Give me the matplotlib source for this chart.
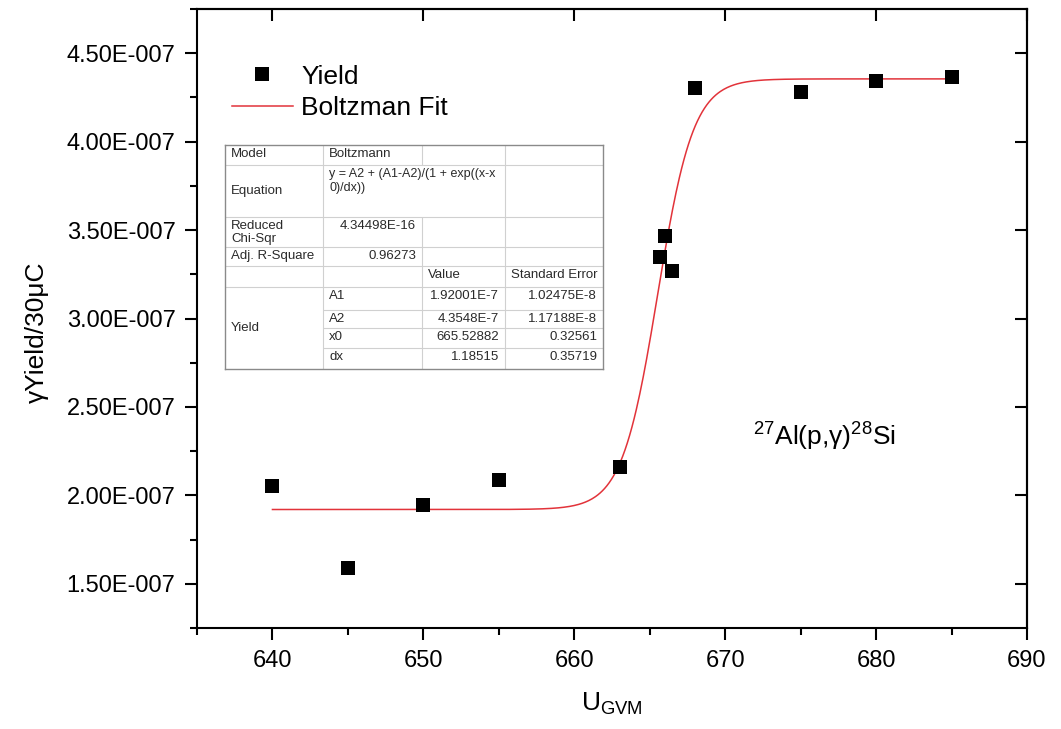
import numpy as np
import matplotlib
matplotlib.use("Agg")
import matplotlib.pyplot as plt
from matplotlib.ticker import MultipleLocator, FuncFormatter, NullLocator

plt.rcParams["font.family"] = ["Liberation Sans", "DejaVu Sans"]
plt.rcParams["mathtext.fontset"] = "custom"
plt.rcParams["mathtext.rm"] = "Liberation Sans"
plt.rcParams["mathtext.it"] = "Liberation Sans:italic"

# measured yield per 30 uC vs GVM setting
u_gvm = [640, 645, 650, 655, 663, 665.7, 666, 666.5, 668, 675, 680, 685]
yield_30uc = [2.054e-7, 1.59e-7, 1.946e-7, 2.088e-7, 2.161e-7, 3.347e-7,
              3.466e-7, 3.268e-7, 4.302e-7, 4.28e-7, 4.342e-7, 4.364e-7]

# Boltzmann fit results
A1, A2, x0, dx = 1.92001e-7, 4.3548e-7, 665.52882, 1.18515
fit_range = (640, 685)

table_rows = [
    ("Model", "Boltzmann"),
    ("Equation", "y = A2 + (A1-A2)/(1 + exp((x-x\n0)/dx))"),
    ("Reduced\nChi-Sqr", "4.34498E-16"),
    ("Adj. R-Square", "0.96273"),
]
param_names = ["A1", "A2", "x0", "dx"]
param_values = ["1.92001E-7", "4.3548E-7", "665.52882", "1.18515"]
param_errors = ["1.02475E-8", "1.17188E-8", "0.32561", "0.35719"]


def boltzmann(x):
    return A2 + (A1 - A2) / (1 + np.exp((x - x0) / dx))


def sci3(v, pos):
    m, e = f"{v:.2E}".split("E")
    e = int(e)
    return f"{m}E{'-' if e < 0 else ''}{abs(e):03d}"


W, H = 1061, 729
fig = plt.figure(figsize=(W / 100, H / 100), dpi=100)
ax = fig.add_axes([197 / W, 1 - 628 / H, 830 / W, 619 / H])

xf = np.linspace(*fit_range, 600)
ax.plot(xf, boltzmann(xf), color="#e2333a", lw=1.1, label="Boltzman Fit", zorder=2)
ax.plot(u_gvm, yield_30uc, "s", color="black", ms=9.6, mew=0, label="Yield", zorder=3)

ax.set_xlim(635, 690)
ax.set_ylim(1.25e-7, 4.75e-7)
ax.xaxis.set_major_locator(MultipleLocator(10))
ax.xaxis.set_minor_locator(MultipleLocator(5))
ax.yaxis.set_major_locator(MultipleLocator(0.5e-7))
ax.yaxis.set_minor_locator(MultipleLocator(0.25e-7))
ax.yaxis.set_major_formatter(FuncFormatter(sci3))

for s in ax.spines.values():
    s.set_linewidth(1.5)
ax.tick_params(which="major", direction="out", length=8.5, width=1.5,
               labelsize=17, pad=7, top=False, right=False)
ax.tick_params(which="minor", direction="out", length=5, width=1.5,
               top=False, right=False)

# mirrored ticks on top and right, pointing inward
secx = ax.secondary_xaxis("top")
secx.xaxis.set_major_locator(MultipleLocator(10))
secx.xaxis.set_minor_locator(NullLocator())
secx.tick_params(direction="in", length=8.5, width=1.5, labeltop=False)
secx.spines["top"].set_linewidth(1.5)
secy = ax.secondary_yaxis("right")
secy.yaxis.set_major_locator(MultipleLocator(0.5e-7))
secy.yaxis.set_minor_locator(NullLocator())
secy.tick_params(direction="in", length=8.5, width=1.5, labelright=False)
secy.spines["right"].set_linewidth(1.5)

ax.set_xlabel(r"U$_{\mathrm{GVM}}$", fontsize=19)
ax.xaxis.set_label_coords(0.5, -0.102)
ax.set_ylabel("γYield/30μC", fontsize=19)
ax.yaxis.set_label_coords(-0.178, 0.477)

ax.text(0.670, 0.294, r"$^{27}$Al(p,γ)$^{28}$Si", transform=ax.transAxes,
        fontsize=19, ha="left", va="baseline")

handles, labels = ax.get_legend_handles_labels()
ax.legend(handles[::-1], labels[::-1], loc="upper left",
          bbox_to_anchor=(0.042, 0.910), frameon=False, fontsize=19,
          handlelength=2.3, handletextpad=0.32, labelspacing=0.27,
          borderpad=0, borderaxespad=0)

# fit report table
tl, tt, tw, th = 225, 145, 378, 224
tax = fig.add_axes([tl / W, 1 - (tt + th) / H, tw / W, th / H])
tax.set_xlim(0, tw)
tax.set_ylim(th, 0)
tax.set_xticks([])
tax.set_yticks([])
for s in tax.spines.values():
    s.set_color("#8a8a8a")
    s.set_linewidth(1.0)

cols = [0, 98, 197, 280, tw]
rows = [0, 20, 72, 102, 121, 142, 165, 183, 203, th]
grid = "#d0d0d0"
tcol = "#2a2a2a"
fs = 9.5

for r in rows[1:6]:
    tax.hlines(r, 0, tw, color=grid, lw=0.8)
for r in rows[6:-1]:
    tax.hlines(r, cols[1], tw, color=grid, lw=0.8)
tax.vlines(cols[1], 0, th, color=grid, lw=0.8)
tax.vlines(cols[2], 0, rows[1], color=grid, lw=0.8)
tax.vlines(cols[2], rows[2], th, color=grid, lw=0.8)
tax.vlines(cols[3], 0, th, color=grid, lw=0.8)

pad = 6
for i, (name, val) in enumerate(table_rows):
    top = rows[i] + 3
    if name == "Equation":
        tax.text(pad, (rows[i] + rows[i + 1]) / 2, name, fontsize=fs, color=tcol,
                 ha="left", va="center")
    else:
        tax.text(pad, top, name, fontsize=fs, color=tcol, ha="left", va="top",
                 linespacing=1.15)
    if i == 0:
        tax.text(cols[1] + pad, top, val, fontsize=fs, color=tcol, ha="left", va="top")
    elif i == 1:
        tax.text(cols[1] + pad, top, val, fontsize=9, color=tcol, ha="left",
                 va="top", linespacing=1.2)
    else:
        tax.text(cols[2] - pad, top, val, fontsize=fs, color=tcol, ha="right",
                 va="top")

tax.text(cols[2] + pad, rows[4] + 3, "Value", fontsize=fs, color=tcol, ha="left", va="top")
tax.text(cols[3] + pad, rows[4] + 3, "Standard Error", fontsize=fs, color=tcol,
         ha="left", va="top")
tax.text(pad, (rows[5] + th) / 2, "Yield", fontsize=fs, color=tcol, ha="left", va="center")
for k in range(4):
    top = rows[5 + k] + 3
    tax.text(cols[1] + pad, top, param_names[k], fontsize=fs, color=tcol, ha="left", va="top")
    tax.text(cols[3] - pad, top, param_values[k], fontsize=fs, color=tcol, ha="right", va="top")
    tax.text(tw - pad, top, param_errors[k], fontsize=fs, color=tcol, ha="right", va="top")

fig.savefig("out.png", dpi=100)
